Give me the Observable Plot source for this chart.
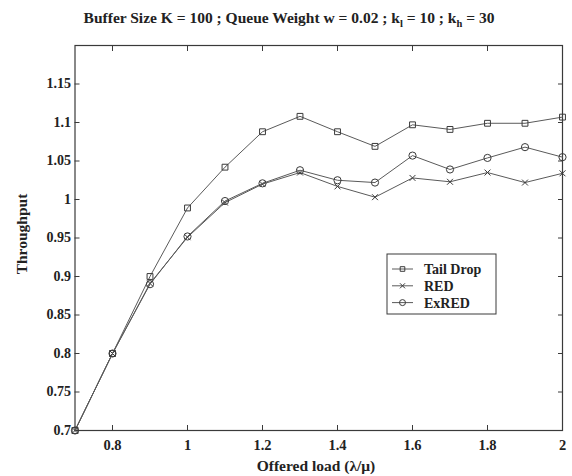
<!DOCTYPE html>
<html>
<head>
<meta charset="utf-8">
<script src="https://cdn.jsdelivr.net/npm/d3@7"></script>
<script src="https://cdn.jsdelivr.net/npm/@observablehq/plot@0.6"></script>
<style>
  html, body { margin: 0; padding: 0; background: #fff; }
  svg { font-family: "Liberation Serif", "DejaVu Serif", serif; }
</style>
</head>
<body>
<div id="chart"></div>
<script>
const load = [0.7, 0.8, 0.9, 1.0, 1.1, 1.2, 1.3, 1.4, 1.5, 1.6, 1.7, 1.8, 1.9, 2.0];
const tailDrop = [0.70, 0.80, 0.90, 0.989, 1.042, 1.088, 1.108, 1.088, 1.069, 1.097, 1.091, 1.099, 1.099, 1.107];
const red      = [0.70, 0.80, 0.891, 0.951, 0.996, 1.020, 1.035, 1.017, 1.003, 1.028, 1.023, 1.035, 1.022, 1.034];
const exred    = [0.70, 0.80, 0.890, 0.952, 0.998, 1.021, 1.038, 1.025, 1.022, 1.057, 1.039, 1.054, 1.068, 1.055];
const seriesNames = ["Tail Drop", "RED", "ExRED"];
const seriesSymbols = ["square", "times", "circle"];
const xTicks = [0.8, 1.0, 1.2, 1.4, 1.6, 1.8, 2.0];
const yTicks = [0.7, 0.75, 0.8, 0.85, 0.9, 0.95, 1.0, 1.05, 1.1, 1.15];
const yTickLabels = ["0.7", "0.75", "0.8", "0.85", "0.9", "0.95", "1", "1.05", "1.1", "1.15"];
const xTickLabels = ["0.8", "1", "1.2", "1.4", "1.6", "1.8", "2"];

const allSeries = [tailDrop, red, exred];
const rows = [];
allSeries.forEach((vals, s) => vals.forEach((v, i) => rows.push({series: seriesNames[s], x: load[i], y: v})));

const ink = "#3a3a3a";
const lineInk = "#5a5a5a";
const symR = [3.3, 2.8, 3.6];

const marks = [
  Plot.frame({stroke: ink, strokeWidth: 1.2}),
  // inward ticks on all sides
  Plot.axisX(xTicks, {anchor: "bottom", tickSize: 5, dy: -5, tickFormat: () => "", stroke: ink, label: null}),
  Plot.axisX(xTicks, {anchor: "top", tickSize: 5, dy: 5, tickFormat: () => "", stroke: ink, label: null}),
  Plot.axisY(yTicks, {anchor: "left", tickSize: 5, dx: 5, tickFormat: () => "", stroke: ink, label: null}),
  Plot.axisY(yTicks, {anchor: "right", tickSize: 5, dx: -5, tickFormat: () => "", stroke: ink, label: null}),
  // labels
  Plot.axisX(xTicks, {anchor: "bottom", tickSize: 0, tickPadding: 9, tickFormat: (d, i) => xTickLabels[i],
    fontSize: 14.5, fontWeight: "bold", fill: "#222", label: null}),
  Plot.axisY(yTicks, {anchor: "left", tickSize: 0, tickPadding: 4, tickFormat: (d, i) => yTickLabels[i],
    fontSize: 14, fontWeight: "bold", fill: "#222", label: null}),
];
seriesNames.forEach((name, s) => {
  const d = rows.filter(r => r.series === name);
  marks.push(Plot.line(d, {x: "x", y: "y", stroke: lineInk, strokeWidth: 1}));
  marks.push(Plot.dot(d, {x: "x", y: "y", symbol: () => seriesSymbols[s], r: symR[s],
    stroke: ink, strokeWidth: 1, fill: "none"}));
});

const plot = Plot.plot({
  width: 572,
  height: 476,
  marginLeft: 74.5,
  marginRight: 10,
  marginTop: 45,
  marginBottom: 46,
  x: {domain: [0.7, 2.0], axis: null},
  y: {domain: [0.7, 1.2], axis: null},
  style: {fontFamily: "'Liberation Serif', 'DejaVu Serif', serif", background: "#fff"},
  marks
});

const svg = d3.select(plot);
// Title with subscripts
const title = svg.append("text")
  .attr("x", 289).attr("y", 23)
  .attr("text-anchor", "middle")
  .attr("font-size", 15.5).attr("font-weight", "bold").attr("fill", "#222");
title.append("tspan").text("Buffer Size K = 100 ; Queue Weight w = 0.02 ; k");
title.append("tspan").attr("font-size", 10.5).attr("dy", 4).text("l");
title.append("tspan").attr("dy", -4).text(" = 10 ; k");
title.append("tspan").attr("font-size", 10.5).attr("dy", 4).text("h");
title.append("tspan").attr("dy", -4).text(" = 30");

// Axis labels
svg.append("text").attr("x", 316).attr("y", 471).attr("text-anchor", "middle")
  .attr("font-size", 15.5).attr("font-weight", "bold").attr("fill", "#222").text("Offered load (λ/μ)");
svg.append("text").attr("transform", "translate(27,234) rotate(-90)").attr("text-anchor", "middle")
  .attr("font-size", 15.5).attr("font-weight", "bold").attr("fill", "#222").text("Throughput");

// Legend
const lg = svg.append("g").attr("text-anchor", "start");
lg.append("rect").attr("x", 387).attr("y", 254).attr("width", 109).attr("height", 60)
  .attr("fill", "#fff").attr("stroke", ink).attr("stroke-width", 1);
const symGen = {
  square: d3.symbol(d3.symbolSquare, Math.PI * 2.6 * 2.6),
  times: d3.symbol(d3.symbolTimes, Math.PI * 2.4 * 2.4),
  circle: d3.symbol(d3.symbolCircle, Math.PI * 3.0 * 3.0)
};
seriesNames.forEach((name, s) => {
  const cy = 269 + s * 16.8;
  lg.append("line").attr("x1", 392).attr("x2", 413).attr("y1", cy).attr("y2", cy)
    .attr("stroke", lineInk).attr("stroke-width", 1);
  lg.append("path").attr("d", symGen[seriesSymbols[s]]()).attr("transform", `translate(402.5,${cy})`)
    .attr("fill", "none").attr("stroke", ink).attr("stroke-width", 1);
  lg.append("text").attr("x", 424).attr("y", cy).attr("dy", "0.35em").attr("text-anchor", "start")
    .attr("font-size", 14).attr("font-weight", "bold").attr("fill", "#222").text(name);
});

document.getElementById("chart").appendChild(plot);
</script>
</body>
</html>
